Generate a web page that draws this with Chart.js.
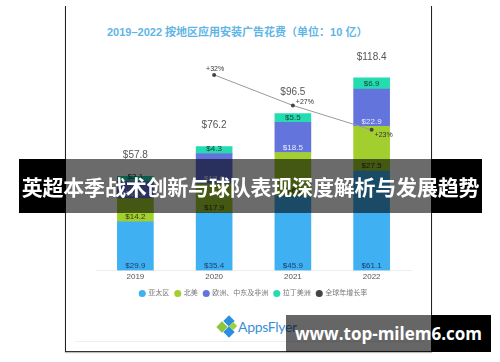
<!DOCTYPE html>
<html>
<head>
<meta charset="utf-8">
<script src="https://cdn.jsdelivr.net/npm/chart.js@4.4.1/dist/chart.umd.min.js"></script>
<style>
  html, body { margin: 0; padding: 0; background: #fff; }
  body { width: 500px; height: 362px; position: relative; overflow: hidden; font-family: "Liberation Sans", "Noto Sans CJK SC", sans-serif; }
  .frame { position: absolute; left: 65px; top: 6px; width: 365px; height: 345px; border-left: 1.5px solid #222; border-right: 1.5px solid #222; border-bottom: 1.5px solid #333; box-shadow: 0 1px 1px rgba(0,0,0,0.25); }
  .title { position: absolute; left: 107px; top: 23px; font-size: 11px; font-weight: bold; color: #5fb5e6; white-space: nowrap; font-family: "Liberation Sans", "Noto Sans CJK SC", sans-serif; }
  #wrap { position: absolute; left: 66px; top: 40px; width: 365px; height: 270px; }
  .rule { position: absolute; left: 75px; top: 341px; width: 348px; height: 1px; background: #eee; }
  .logo { position: absolute; left: 216px; top: 316px; height: 22px; }
  .logo .leaf { position: absolute; width: 8px; height: 8px; transform: rotate(45deg); }
  .logo .txt { position: absolute; left: 22px; top: 2px; font-size: 14px; color: #3a8fd8; font-family: "Lato", sans-serif; letter-spacing: -0.3px; }
  .band { position: absolute; }
  .btext { position: absolute; left: 19px; top: 159px; width: 463px; height: 54px; line-height: 54px; text-align: center; color: #fff; font-size: 21px; font-weight: bold; font-family: "Noto Sans CJK SC", sans-serif; white-space: nowrap; letter-spacing: -0.2px; }
  .wtext { position: absolute; left: 286px; top: 315px; width: 205px; height: 37px; line-height: 37px; text-align: center; color: #fff; font-size: 17px; font-weight: bold; font-family: "Open Sans", sans-serif; white-space: nowrap; }
</style>
</head>
<body>
<div class="frame"></div>
<div class="title">2019–2022 按地区应用安装广告花费（单位：10 亿）</div>
<div id="wrap"><canvas id="chart"></canvas></div>
<div class="rule"></div>
<div class="logo">
  <div class="leaf" style="left:2px;top:7px;background:#8cc63f;"></div>
  <div class="leaf" style="left:9px;top:1px;background:#2a8fe0;"></div>
  <div class="leaf" style="left:9px;top:12px;background:#2a8fe0;"></div>
  <div class="leaf" style="left:14px;top:7px;background:#9fd04a;width:6px;height:6px;"></div>
  <div class="txt">AppsFlyer</div>
</div>

<div class="band" style="left:19px;top:159px;width:47px;height:54px;background:#000;"></div>
<div class="band" style="left:66px;top:159px;width:365px;height:54px;background:rgba(0,0,0,0.58);"></div>
<div class="band" style="left:431px;top:159px;width:51px;height:54px;background:#000;"></div>
<div class="btext">英超本季战术创新与球队表现深度解析与发展趋势</div>

<div class="band" style="left:286px;top:315px;width:145px;height:37px;background:rgba(0,0,0,0.6);"></div>
<div class="band" style="left:431px;top:315px;width:60px;height:37px;background:#000;"></div>
<div class="wtext">www.top-milem6.com</div>

<script>
// 数据
const years = ['2019', '2020', '2021', '2022'];
const apac = [29.9, 35.4, 45.9, 61.1];
const northAmerica = [14.2, 17.9, 26.6, 27.5];
const emea = [10.6, 18.6, 18.5, 22.9];
const latam = [3.1, 4.3, 5.5, 6.9];
const totals = [57.8, 76.2, 96.5, 118.4];
const growth = [null, 32, 27, 23];
const growthLabels = ['', '+32%', '+27%', '+23%'];

Chart.defaults.font.family = '"Liberation Sans", "Noto Sans CJK SC", sans-serif';
Chart.defaults.color = '#555';

// 每段的标签颜色
const segLabelColors = ['#1d3f6b', '#2d3a10', '#e6e9ff', '#123f35'];
// 增长率标签相对点的偏移
const growthOffsets = [[0, 0], [1, -6], [12, -3], [12, 5]];

const labelPlugin = {
    id: 'barLabels',
    afterDatasetsDraw(chart) {
        const ctx = chart.ctx;
        ctx.save();
        ctx.textAlign = 'center';
        ctx.textBaseline = 'middle';
        ctx.font = '8px "Liberation Sans", sans-serif';
        // 段内数值
        for (let d = 1; d <= 4; d++) {
            const meta = chart.getDatasetMeta(d);
            meta.data.forEach((bar, i) => {
                ctx.fillStyle = segLabelColors[d - 1];
                ctx.fillText('$' + chart.data.datasets[d].data[i].toFixed(1), bar.x, bar.base - 5);
            });
        }
        // 总计
        const top = chart.getDatasetMeta(4);
        ctx.font = '10px "Liberation Sans", sans-serif';
        ctx.fillStyle = '#555';
        top.data.forEach((bar, i) => {
            ctx.fillText('$' + totals[i].toFixed(1), bar.x, bar.y - 21);
        });
        // 增长率
        const line = chart.getDatasetMeta(0);
        ctx.font = '7px "Liberation Sans", sans-serif';
        ctx.fillStyle = '#333';
        line.data.forEach((pt, i) => {
            if (!growthLabels[i]) return;
            ctx.fillText(growthLabels[i], pt.x + growthOffsets[i][0], pt.y + growthOffsets[i][1]);
        });
        ctx.restore();
    }
};

new Chart(document.getElementById('chart'), {
    type: 'bar',
    data: {
        labels: years,
        datasets: [
            {
                type: 'line',
                label: '全球年增长率',
                data: growth,
                yAxisID: 'y1',
                borderColor: '#9a9a9a',
                backgroundColor: '#444',
                borderWidth: 1,
                pointRadius: 2,
                pointBackgroundColor: '#444',
                pointBorderColor: '#444',
                pointBorderWidth: 0,
                fill: false,
                order: 0
            },
            { label: '亚太区', data: apac, backgroundColor: '#3fb0f2', stack: 's', order: 1 },
            { label: '北美', data: northAmerica, backgroundColor: '#a2cf2e', stack: 's', order: 1 },
            { label: '欧洲、中东及非洲', data: emea, backgroundColor: '#6474dd', stack: 's', order: 1 },
            { label: '拉丁美洲', data: latam, backgroundColor: '#25dcb1', stack: 's', order: 1 }
        ]
    },
    options: {
        responsive: true,
        maintainAspectRatio: false,
        animation: false,
        barThickness: 36,
        layout: { padding: { left: 30, right: 20, top: 19, bottom: 3 } },
        plugins: {
            tooltip: { enabled: false },
            legend: {
                position: 'bottom',
                reverse: false,
                labels: {
                    usePointStyle: true,
                    pointStyle: 'circle',
                    boxWidth: 5,
                    boxHeight: 5,
                    padding: 6,
                    color: '#777',
                    font: { size: 7 },
                    sort: (a, b) => (a.datasetIndex === 0 ? 1 : 0) - (b.datasetIndex === 0 ? 1 : 0)
                }
            }
        },
        scales: {
            x: {
                stacked: true,
                grid: { display: false, drawTicks: false },
                border: { color: '#eeeeee' },
                ticks: { font: { size: 8 }, color: '#555', padding: 2 }
            },
            y: { stacked: true, display: false, min: 0, max: 130 },
            y1: { display: false, min: 0, max: 34.6 }
        }
    },
    plugins: [labelPlugin]
});
</script>
</body>
</html>
